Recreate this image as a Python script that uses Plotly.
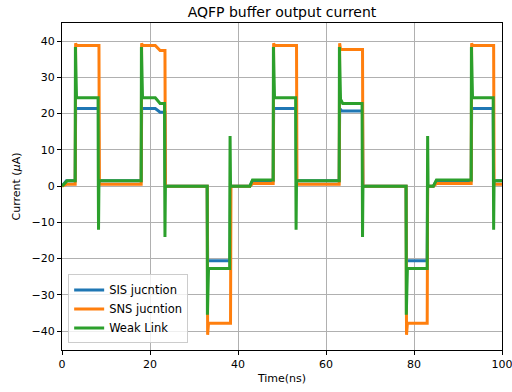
import plotly.graph_objects as go

# SIS junction output current (uA) vs time (ns)
sis_t = [0, 1.0, 3.0, 3.1, 8.3, 8.4, 18.0, 18.1, 21.2, 22.3, 23.4, 23.5,
         33.0, 33.1, 38.2, 38.3, 42.7, 43.3, 48.0, 48.1, 53.2, 53.3,
         63.0, 63.1, 63.6, 68.3, 68.4, 78.2, 78.3, 83.0, 83.1, 84.4, 85.1,
         93.0, 93.1, 98.0, 98.1, 100]
sis_i = [0, 1.5, 1.5, 21.4, 21.4, 1.5, 1.5, 21.4, 21.4, 20.4, 20.4, 0,
         0, -20.6, -20.6, 0, 0, 1.5, 1.5, 21.4, 21.4, 1.5,
         1.5, 21.4, 20.7, 20.7, 0, 0, -20.6, -20.6, 0, 0, 1.5,
         1.5, 21.4, 21.4, 1.5, 1.5]

# SNS junction output current
sns_t = [0, 1.0, 3.0, 3.1, 3.3, 8.4, 8.5, 18.0, 18.1, 18.3, 21.2, 22.3, 23.4, 23.5,
         33.0, 33.1, 33.3, 38.3, 38.4, 42.7, 43.3, 48.0, 48.1, 48.3, 53.3, 53.4,
         63.0, 63.1, 63.3, 68.3, 68.4, 78.2, 78.3, 78.5, 83.0, 83.1, 84.4, 85.1,
         93.0, 93.1, 93.3, 98.1, 98.2, 100]
sns_i = [0, 0.5, 0.5, 39.4, 38.8, 38.8, 0.5, 0.5, 39.4, 38.8, 38.8, 37.4, 37.4, 0,
         0, -41.0, -37.8, -37.8, 0, 0, 0.7, 0.7, 39.4, 38.8, 38.8, 0.5,
         0.5, 39.4, 37.7, 37.7, 0, 0, -41.0, -37.8, -37.8, 0, 0, 0.7,
         0.7, 39.4, 38.8, 38.8, 0.5, 0.5]

# Weak-link output current
wl_t = [0, 1.2, 3.0, 3.05, 3.3, 8.2, 8.25, 8.3, 8.4,
        18.0, 18.05, 18.3, 21.2, 22.3, 23.3, 23.35, 23.4, 23.5,
        33.0, 33.05, 33.3, 38.1, 38.15, 38.2, 38.3, 42.7, 43.3,
        48.0, 48.05, 48.3, 53.1, 53.15, 53.2, 53.3,
        63.0, 63.05, 63.3, 63.8, 68.2, 68.25, 68.3, 68.4,
        78.2, 78.25, 78.5, 83.0, 83.05, 83.1, 83.2, 84.4, 85.1,
        93.0, 93.05, 93.3, 98.0, 98.05, 98.1, 98.2, 100]
wl_i = [0, 1.5, 1.5, 38.4, 24.4, 24.4, 1.5, -12.0, 1.5,
        1.5, 38.4, 24.4, 24.4, 22.8, 22.8, 0, -14.0, 0,
        0, -35.5, -22.7, -22.7, 0, 13.8, 0, 0, 1.7,
        1.7, 38.4, 24.4, 24.4, 1.5, -12.0, 1.5,
        1.5, 38.4, 24.0, 22.8, 22.8, 0, -14.0, 0,
        0, -35.5, -22.7, -22.7, 0, 13.8, 0, 0, 1.7,
        1.7, 38.4, 24.4, 24.4, 1.5, -12.0, 1.5, 1.5]

series = [
    ("SIS jucntion", sis_t, sis_i, "#1f77b4"),
    ("SNS jucntion", sns_t, sns_i, "#ff7f0e"),
    ("Weak Link", wl_t, wl_i, "#2ca02c"),
]

FONT = "DejaVu Sans"

fig = go.Figure()
for name, t, i, color in series:
    fig.add_trace(go.Scatter(x=t, y=i, mode="lines", name=name,
                             line=dict(color=color, width=3)))

axis_style = dict(
    showline=True, mirror=True, linecolor="black", linewidth=1,
    ticks="outside", ticklen=4, tickcolor="black", tickwidth=1,
    showgrid=True, gridcolor="#b0b0b0", gridwidth=1, zeroline=False,
    tickfont=dict(family=FONT, size=11, color="black"),
    ticklabeloverflow="allow", automargin=False,
)

fig.update_layout(
    width=512, height=392,
    margin=dict(l=62, r=10, t=23, b=42),
    paper_bgcolor="white", plot_bgcolor="white",
    font=dict(family=FONT, size=11, color="black"),
    title=dict(text="AQFP buffer output current", x=282 / 512,
               xanchor="center", y=1 - 12 / 392, yanchor="middle",
               font=dict(family=FONT, size=14, color="black")),
    xaxis=dict(range=[0, 100], tickvals=[0, 20, 40, 60, 80, 100],
               title=dict(text="Time(ns)", standoff=4,
                          font=dict(family=FONT, size=11)),
               **axis_style),
    yaxis=dict(range=[-45.2, 45], tickvals=[-40, -30, -20, -10, 0, 10, 20, 30, 40],
               title=dict(text="Current (<i>μ</i>A)", standoff=8,
                          font=dict(family=FONT, size=11)),
               **axis_style),
    legend=dict(x=0.014, y=0.02, xanchor="left", yanchor="bottom",
                bgcolor="rgba(255,255,255,0.8)", bordercolor="#cccccc",
                borderwidth=1, font=dict(family=FONT, size=11.5),
                tracegroupgap=0),
    showlegend=True,
)

fig.write_html("out.html")
